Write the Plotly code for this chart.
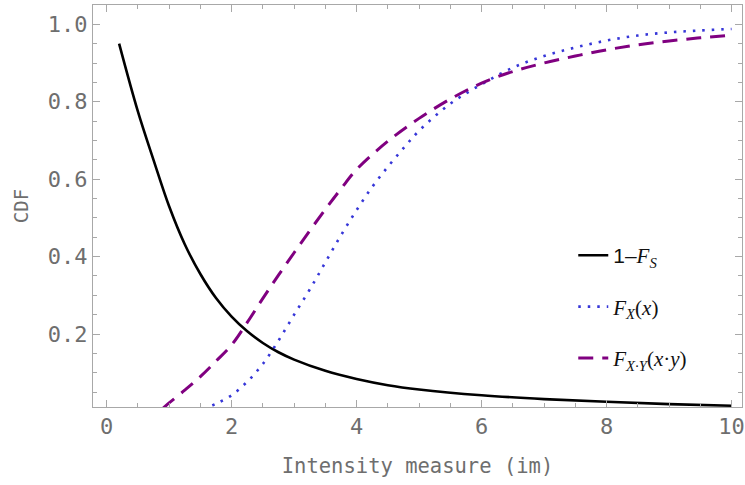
import plotly.graph_objects as go

# 1 - F_S (black solid)
xs_s = [0.2, 0.5, 0.75, 1.0, 1.25, 1.5, 1.75, 2.0, 2.25, 2.5, 2.75, 3.0, 3.5, 4.0, 4.5, 5.0, 6.0, 7.0, 8.0, 9.0, 10.0]
ys_s = [0.95, 0.775, 0.65, 0.53, 0.432, 0.355, 0.293, 0.245, 0.207, 0.177, 0.153, 0.134, 0.105, 0.084, 0.068, 0.057, 0.042, 0.032, 0.025, 0.019, 0.015]

# F_X(x) (blue dotted)
xs_x = [1.55, 1.75, 2.0, 2.25, 2.5, 2.75, 3.0, 3.25, 3.5, 3.75, 4.0, 4.25, 4.5, 4.75, 5.0, 5.5, 6.0, 6.5, 7.0, 7.5, 8.0, 8.5, 9.0, 9.5, 10.0]
ys_x = [0.005, 0.02, 0.042, 0.077, 0.123, 0.183, 0.25, 0.315, 0.385, 0.455, 0.52, 0.58, 0.632, 0.68, 0.725, 0.795, 0.845, 0.888, 0.918, 0.94, 0.958, 0.971, 0.979, 0.984, 0.988]

# F_{X.Y}(x.y) (purple dashed)
xs_xy = [0.9, 1.0, 1.25, 1.5, 1.75, 2.0, 2.25, 2.5, 2.75, 3.0, 3.25, 3.5, 3.75, 4.0, 4.5, 5.0, 5.5, 6.0, 6.5, 7.0, 7.5, 8.0, 8.5, 9.0, 9.5, 10.0]
ys_xy = [0.008, 0.022, 0.055, 0.09, 0.13, 0.172, 0.23, 0.292, 0.352, 0.41, 0.467, 0.522, 0.575, 0.625, 0.698, 0.757, 0.807, 0.848, 0.878, 0.9, 0.918, 0.934, 0.947, 0.957, 0.965, 0.972]

x_ticks = [0, 2, 4, 6, 8, 10]
y_ticks = [0.2, 0.4, 0.6, 0.8, 1.0]

names = [
    '<span style="font-family:Liberation Sans">1–</span><i>F<sub>S</sub></i>',
    '<i>F<sub>X</sub></i>(<i>x</i>)',
    '<i>F<sub>X·Y</sub></i>(<i>x</i>·<i>y</i>)',
]

fig = go.Figure()
fig.add_trace(go.Scatter(x=xs_s, y=ys_s, mode="lines", name=names[0], legendgroup="a",
                         line=dict(color="#000000", width=2.6, shape="spline")))
fig.add_trace(go.Scatter(x=xs_x, y=ys_x, mode="lines", name=names[1], legendgroup="b",
                         line=dict(color="#3636d8", width=2.6, dash="2.5px,7px", shape="spline")))
fig.add_trace(go.Scatter(x=xs_xy, y=ys_xy, mode="lines", name=names[2], legendgroup="c",
                         line=dict(color="#800080", width=3, dash="15px,9px", shape="spline")))

tickfont = dict(family="DejaVu Sans Mono", size=22, color="#6e6e6e")
titlefont = dict(family="DejaVu Sans Mono", size=19, color="#6e6e6e")
xtitlefont = dict(family="DejaVu Sans Mono", size=20.5, color="#6e6e6e")

fig.update_layout(
    width=745, height=485,
    margin=dict(l=93, r=0, t=5, b=78),
    paper_bgcolor="white", plot_bgcolor="white",
    showlegend=True,
    legend=dict(x=0.74, y=0.4275, xanchor="left", yanchor="top",
                font=dict(family="Liberation Serif", size=21, color="#111111"),
                tracegroupgap=21, bgcolor="rgba(0,0,0,0)"),
    xaxis=dict(range=[-0.218, 10.167], tickvals=x_ticks, ticktext=[str(v) for v in x_ticks],
               showgrid=False, zeroline=False, showline=True, linecolor="#a8a8a8", linewidth=1,
               mirror="allticks", ticks="inside", ticklen=7, tickcolor="#a8a8a8", tickwidth=1,
               minor=dict(dtick=0.5, tick0=0, ticks="inside", ticklen=4, tickcolor="#a8a8a8", showgrid=False),
               tickfont=tickfont, ticklabeloverflow="allow",
               title=dict(text="Intensity measure (im)", font=xtitlefont, standoff=20)),
    yaxis=dict(range=[0.0116, 1.0498], tickvals=y_ticks, ticktext=["%.1f" % v for v in y_ticks],
               showgrid=False, zeroline=False, showline=True, linecolor="#a8a8a8", linewidth=1,
               mirror="allticks", ticks="inside", ticklen=7, tickcolor="#a8a8a8", tickwidth=1,
               minor=dict(dtick=0.05, tick0=0, ticks="inside", ticklen=4, tickcolor="#a8a8a8", showgrid=False),
               tickfont=tickfont,
               title=dict(text="CDF", font=titlefont, standoff=14)),
)

fig.write_html("out.html")
